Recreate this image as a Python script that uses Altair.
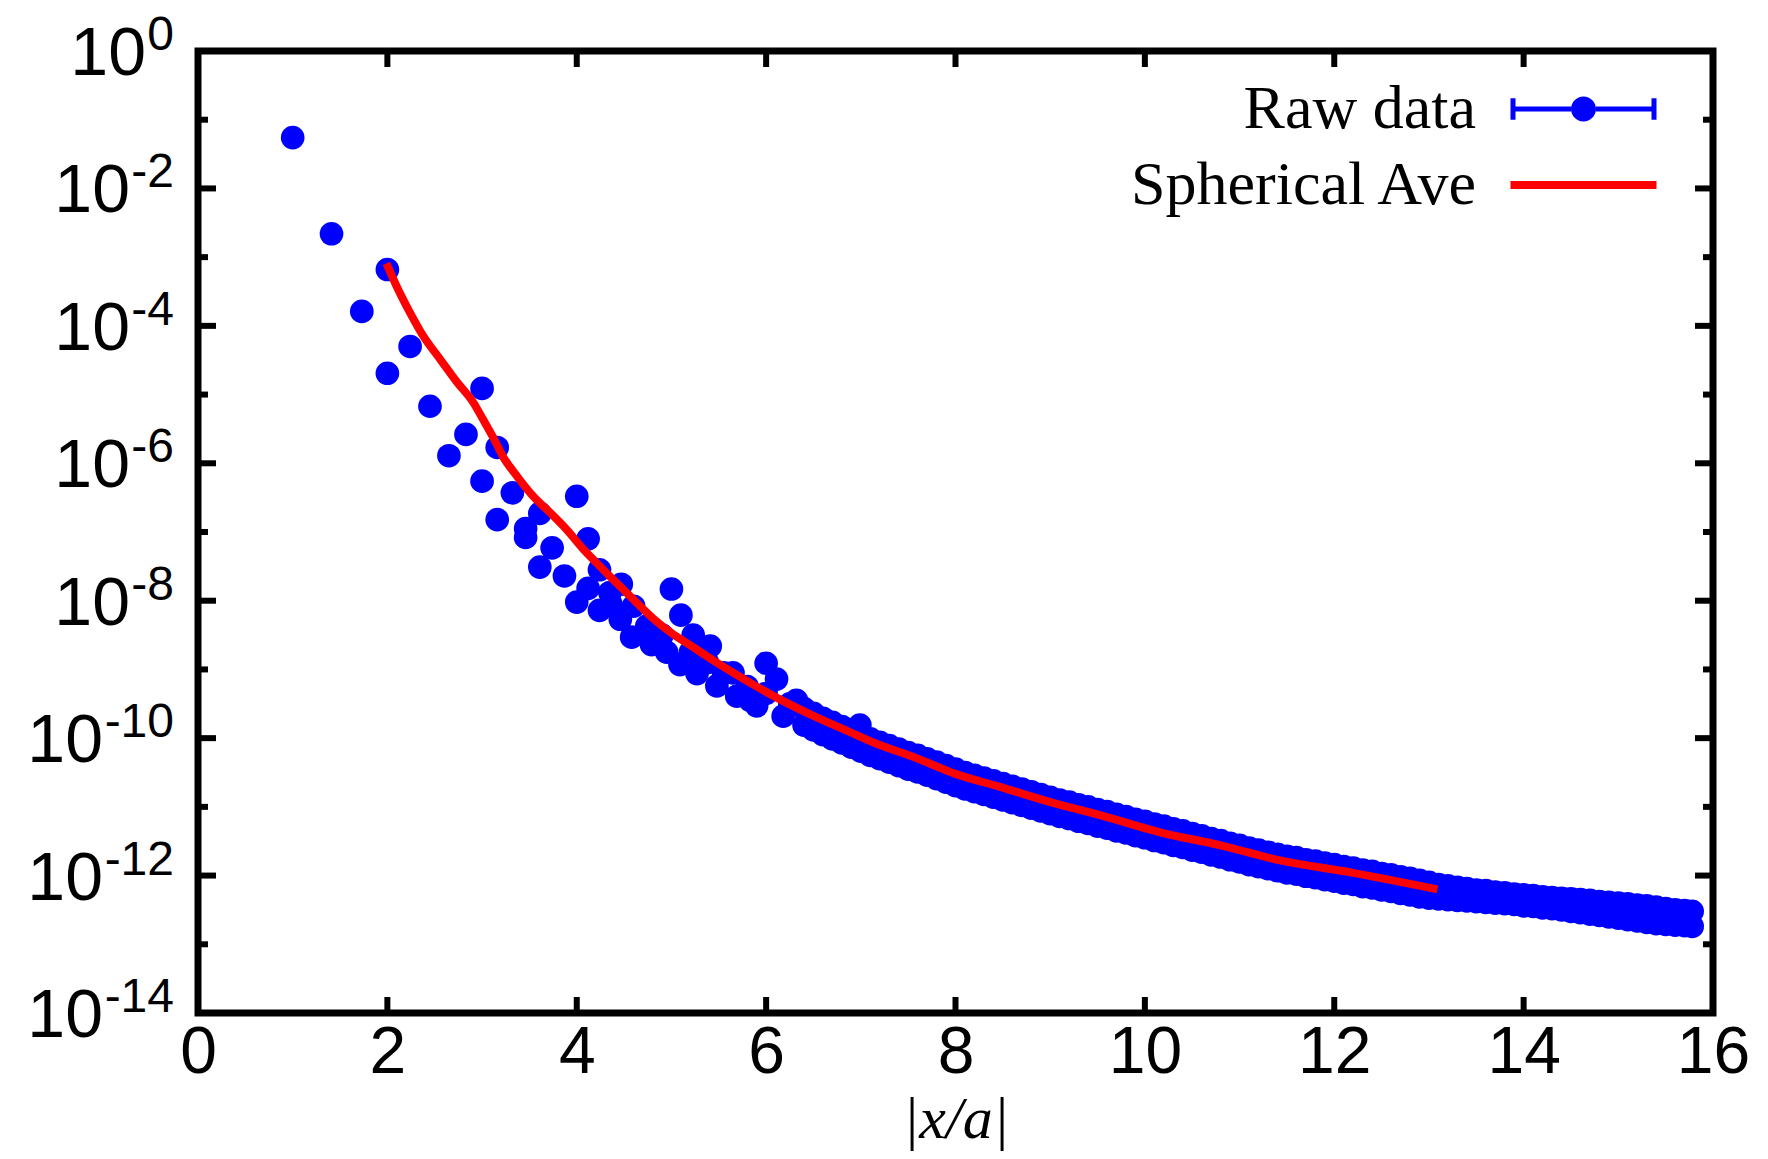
import altair as alt
import pandas as pd

# ---------------- data (x = |x/a|, values given as log10) ----------------
raw_x = [1.00, 1.41, 1.73, 2.00, 2.00, 2.24, 2.45, 2.65, 2.83,
         3.00, 3.00, 3.16, 3.16, 3.32, 3.46, 3.46, 3.61, 3.61, 3.74, 3.87,
         4.00, 4.00, 4.12, 4.12, 4.24, 4.24, 4.35, 4.36, 4.47, 4.46,
         4.60, 4.58, 4.74, 4.79, 4.90, 4.95,
         5.00, 5.10, 5.09, 5.20, 5.23, 5.27, 5.38, 5.41, 5.48, 5.55, 5.65, 5.69, 5.80, 5.83, 5.90,
         6.00, 6.11, 6.00, 6.18, 6.25, 6.32, 6.99, 7.99]
raw_log = [-1.26, -2.66, -3.79, -3.18, -4.69, -4.30, -5.17, -5.89, -5.58,
           -4.91, -6.26, -5.77, -6.82, -6.43, -6.95, -7.08, -6.73, -7.51, -7.23, -7.64,
           -6.48, -8.02, -7.10, -7.82, -7.55, -8.14, -7.88, -8.05, -7.76, -8.27,
           -8.08, -8.53, -8.37, -8.64, -8.50, -8.75,
           -7.83, -8.21, -8.93, -8.75, -8.50, -9.06, -8.90, -8.66, -9.24, -9.05, -9.05, -9.39, -9.25, -9.45, -9.53,
           -8.91, -9.14, -9.35, -9.68, -9.50, -9.45, -9.81, -10.46]

# dense part of the raw data: upper and lower edge of the band of points
band_x = [6.4, 6.5, 6.6, 6.7, 6.8, 6.9, 7.0, 7.1, 7.2, 7.3, 7.4, 7.5, 7.6, 7.7, 7.8, 7.9,
          8.0, 8.1, 8.2, 8.3, 8.4, 8.5, 8.6, 8.7, 8.8, 8.9, 9.0, 9.1, 9.2, 9.3, 9.4, 9.5,
          9.6, 9.7, 9.8, 9.9, 10.0, 10.1, 10.2, 10.3, 10.4, 10.5, 10.6, 10.7, 10.8, 10.9,
          11.0, 11.1, 11.2, 11.3, 11.4, 11.5, 11.6, 11.7, 11.8, 11.9, 12.0, 12.1, 12.2, 12.3,
          12.4, 12.5, 12.6, 12.7, 12.8, 12.9, 13.0, 13.1, 13.2, 13.3, 13.4, 13.5, 13.6, 13.7,
          13.8, 13.9, 14.0, 14.1, 14.2, 14.3, 14.4, 14.5, 14.6, 14.7, 14.8, 14.9, 15.0, 15.1,
          15.2, 15.3, 15.4, 15.5, 15.6, 15.7, 15.78]
band_hi_log = [-9.57, -9.64, -9.71, -9.77, -9.83, -9.89, -9.95, -10.01, -10.06, -10.11, -10.16,
               -10.21, -10.25, -10.30, -10.35, -10.40, -10.45, -10.50, -10.54, -10.58, -10.62,
               -10.66, -10.70, -10.74, -10.78, -10.82, -10.86, -10.90, -10.93, -10.97, -11.00,
               -11.04, -11.07, -11.11, -11.14, -11.18, -11.21, -11.25, -11.28, -11.32, -11.35,
               -11.39, -11.42, -11.46, -11.49, -11.53, -11.56, -11.60, -11.63, -11.66, -11.69,
               -11.72, -11.74, -11.77, -11.79, -11.82, -11.84, -11.87, -11.89, -11.92, -11.94,
               -11.97, -11.99, -12.02, -12.04, -12.07, -12.10, -12.13, -12.15, -12.17, -12.19,
               -12.21, -12.22, -12.24, -12.25, -12.27, -12.28, -12.29, -12.31, -12.32, -12.33,
               -12.34, -12.35, -12.36, -12.38, -12.39, -12.40, -12.41, -12.43, -12.44, -12.46,
               -12.48, -12.50, -12.51, -12.52]
band_lo_log = [-9.81, -9.88, -9.95, -10.01, -10.07, -10.13, -10.19, -10.25, -10.30, -10.35, -10.40,
               -10.45, -10.49, -10.54, -10.59, -10.64, -10.69, -10.74, -10.78, -10.82, -10.86,
               -10.90, -10.94, -10.98, -11.02, -11.06, -11.10, -11.14, -11.17, -11.21, -11.24,
               -11.28, -11.31, -11.35, -11.38, -11.42, -11.45, -11.49, -11.52, -11.56, -11.59,
               -11.63, -11.66, -11.70, -11.73, -11.77, -11.80, -11.84, -11.87, -11.90, -11.93,
               -11.96, -11.98, -12.01, -12.03, -12.06, -12.08, -12.11, -12.13, -12.16, -12.18,
               -12.21, -12.23, -12.26, -12.28, -12.31, -12.33, -12.34, -12.35, -12.36, -12.37,
               -12.38, -12.39, -12.40, -12.41, -12.42, -12.44, -12.45, -12.47, -12.48, -12.50,
               -12.52, -12.54, -12.56, -12.58, -12.60, -12.62, -12.64, -12.66, -12.68, -12.70,
               -12.71, -12.72, -12.73, -12.74]

ave_x = [1.99, 2.10, 2.24, 2.38, 2.56, 2.73, 2.91, 3.01, 3.12, 3.22, 3.37, 3.54, 3.72, 3.89,
         4.07, 4.21, 4.39, 4.56, 4.80, 5.00, 5.20, 5.50, 5.90, 6.15, 6.46, 6.85, 7.20, 7.55,
         8.00, 8.47, 9.00, 9.50, 10.16, 10.80, 11.43, 12.20, 13.09]
ave_log = [-3.09, -3.43, -3.81, -4.15, -4.49, -4.81, -5.12, -5.36, -5.63, -5.90, -6.19, -6.48,
           -6.72, -6.96, -7.25, -7.45, -7.70, -7.93, -8.25, -8.47, -8.65, -8.92, -9.25, -9.44,
           -9.65, -9.89, -10.10, -10.27, -10.52, -10.71, -10.93, -11.11, -11.37, -11.56,
           -11.78, -11.96, -12.20]

series_names = ["Raw data", "Spherical Ave"]
x_tick_values = [0, 2, 4, 6, 8, 10, 12, 14, 16]
y_major_exps = [0, -2, -4, -6, -8, -10, -12, -14]
y_minor_exps = [-1, -3, -5, -7, -9, -11, -13]

# ---------------- tables ----------------
raw_df = pd.DataFrame({
    "x": raw_x + band_x + band_x,
    "v": [10.0 ** e for e in raw_log + band_hi_log + band_lo_log],
})
ave_df = pd.DataFrame({"x": ave_x, "v": [10.0 ** e for e in ave_log]})
xt_df = pd.DataFrame({"x": x_tick_values})
ymaj_df = pd.DataFrame({"v": [10.0 ** e for e in y_major_exps], "exp": [str(e) for e in y_major_exps]})
ymin_df = pd.DataFrame({"v": [10.0 ** e for e in y_minor_exps]})
leg_df = pd.DataFrame({"series": series_names, "x": [1.0, 1.0], "v": [1e-3, 1e-3]})

W, H = 1515, 962
FONT = "Liberation Sans"
SERIF = "Liberation Serif"

xscale = alt.Scale(domain=[0, 16], nice=False, zero=False)
yscale = alt.Scale(type="log", domain=[1e-14, 1], nice=False)

xaxis = alt.Axis(values=x_tick_values, ticks=False, domain=False, grid=False,
                 labelFont=FONT, labelFontSize=66, labelColor="black", labelPadding=7,
                 labelFlush=False, labelOverlap=False, format="d",
                 title="|x/a|", titleFont=SERIF, titleFontStyle="italic",
                 titleFontWeight="normal", titleFontSize=60, titleColor="black",
                 titleBaseline="middle", titleY=106)

Y = lambda: alt.Y("v:Q", scale=yscale, axis=None)
X = lambda: alt.X("x:Q", scale=xscale, axis=xaxis)

points = alt.Chart(raw_df).mark_circle(size=560, color="#0000ff", opacity=1).encode(x=X(), y=Y())

ave = alt.Chart(ave_df).mark_line(color="#ff0000", strokeWidth=8, interpolate="monotone").encode(
    x=X(), y=Y())

tick_w = 6
left_major = alt.Chart(ymaj_df).mark_rule(color="black", strokeWidth=tick_w).encode(
    y=Y(), x=alt.value(0), x2=alt.value(18))
right_major = alt.Chart(ymaj_df).mark_rule(color="black", strokeWidth=tick_w).encode(
    y=Y(), x=alt.value(W), x2=alt.value(W - 18))
left_minor = alt.Chart(ymin_df).mark_rule(color="black", strokeWidth=tick_w).encode(
    y=Y(), x=alt.value(0), x2=alt.value(10))
right_minor = alt.Chart(ymin_df).mark_rule(color="black", strokeWidth=tick_w).encode(
    y=Y(), x=alt.value(W), x2=alt.value(W - 10))
bottom_ticks = alt.Chart(xt_df).mark_rule(color="black", strokeWidth=tick_w).encode(
    x=X(), y=alt.value(H), y2=alt.value(H - 16))
top_ticks = alt.Chart(xt_df).mark_rule(color="black", strokeWidth=tick_w).encode(
    x=X(), y=alt.value(0), y2=alt.value(16))

# y tick labels as 10^exp (base + raised exponent), right aligned
label_right = -24
exp_layer = alt.Chart(ymaj_df).mark_text(
    align="right", baseline="middle", font=FONT, fontSize=48, dy=-15, color="black"
).encode(y=Y(), x=alt.value(label_right), text="exp:N")
base_layers = []
for group, wdt in [(["0"], 27), (["-2", "-4", "-6", "-8"], 43), (["-10", "-12", "-14"], 70)]:
    base_layers.append(
        alt.Chart(ymaj_df).transform_filter(alt.FieldOneOfPredicate(field="exp", oneOf=group))
        .mark_text(text="10", align="right", baseline="middle", font=FONT, fontSize=68, dy=4, color="black")
        .encode(y=Y(), x=alt.value(label_right - wdt - 1))
    )

# legend (labels on the left of the symbols); symbol unit = 12.5 px
path_raw = ("M-5.84,-0.2 L-1,-0.2 L-1,0.2 L-5.84,0.2 Z "
            "M1,-0.2 L5.84,-0.2 L5.84,0.2 L1,0.2 Z "
            "M-5.84,-0.86 L-5.44,-0.86 L-5.44,0.86 L-5.84,0.86 Z "
            "M5.44,-0.86 L5.84,-0.86 L5.84,0.86 L5.44,0.86 Z "
            "M-1,0 A1,1 0 1,1 1,0 A1,1 0 1,1 -1,0 Z")
path_ave = "M-5.84,-0.32 L5.84,-0.32 L5.84,0.32 L-5.84,0.32 Z"
sym_px = 25
legend_x = 1354.5
leg = alt.Legend(orient="none", legendX=legend_x, legendY=27, direction="vertical", title=None,
                 labelFont=SERIF, labelFontSize=62, labelColor="black", labelAlign="right",
                 labelBaseline="middle",
                 labelOffset={"expr": "-138.5"},
                 labelLimit=0, symbolSize=sym_px * sym_px, symbolStrokeWidth=0, symbolOpacity=1,
                 rowPadding=14, padding=0)
legend_layer = alt.Chart(leg_df).transform_filter("false").mark_point(filled=True, opacity=1).encode(
    x=X(), y=Y(),
    color=alt.Color("series:N", scale=alt.Scale(domain=series_names, range=["#0000ff", "#ff0000"]), legend=leg),
    shape=alt.Shape("series:N", scale=alt.Scale(domain=series_names, range=[path_raw, path_ave]), legend=leg),
)

chart = alt.layer(
    points, ave, left_major, right_major, left_minor, right_minor, bottom_ticks, top_ticks,
    exp_layer, *base_layers, legend_layer
).properties(
    width=W, height=H,
    autosize=alt.AutoSizeParams(type="none"),
    padding={"left": 190, "top": 43, "right": 47, "bottom": 138},
    background="white",
).configure_view(stroke="black", strokeWidth=7)

chart.save("out.html", embed_options={"renderer": "svg", "actions": False})
